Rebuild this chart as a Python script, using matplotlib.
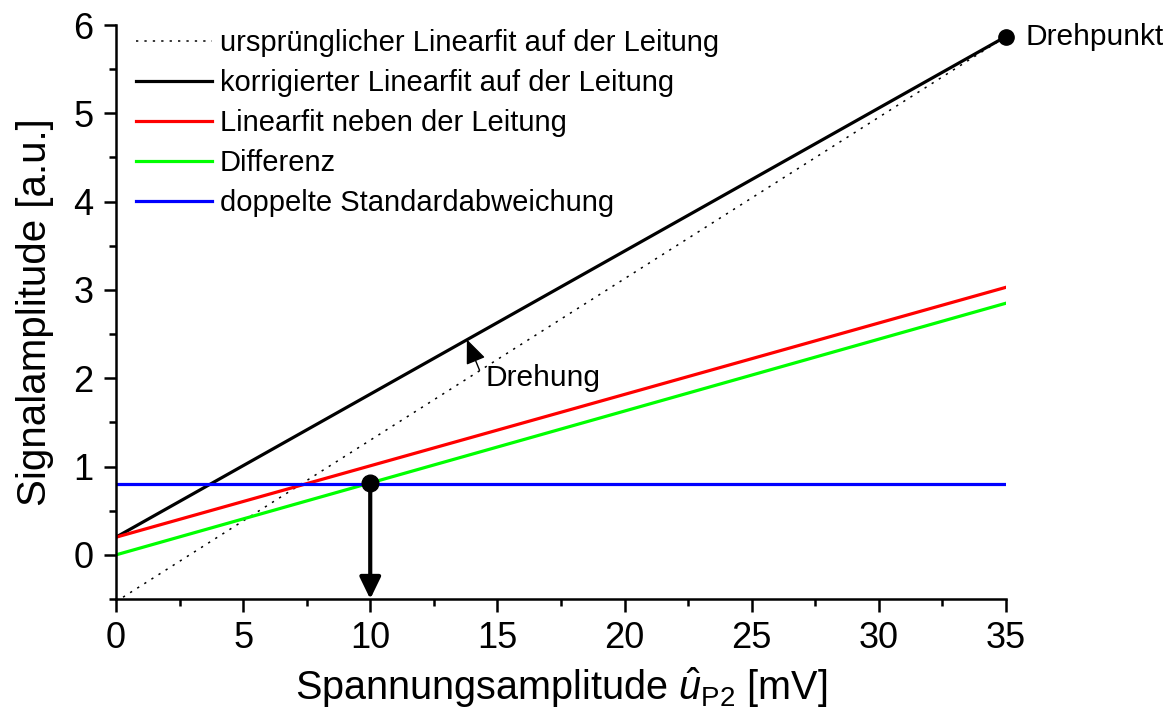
import matplotlib
matplotlib.use("Agg")
import matplotlib.pyplot as plt
from matplotlib.ticker import MultipleLocator

plt.rcParams['font.family'] = ['Liberation Sans', 'DejaVu Sans']
plt.rcParams['mathtext.fontset'] = 'custom'
plt.rcParams['mathtext.rm'] = 'Liberation Sans'
plt.rcParams['mathtext.it'] = 'Liberation Sans:italic'

# Fit line endpoints (x in mV, amplitude in a.u.)
x_ends = [0, 35]
original_fit = [-0.53, 5.87]
corrected_fit = [0.2, 5.87]
beside_fit = [0.2, 3.03]
difference = [0.0, 2.85]
two_sigma = [0.8, 0.8]

pivot = (35, 5.87)
threshold_point = (10, 0.815)
rotation_point = (13.8, 2.44)
rotation_tail = (14.3, 2.09)
rotation_text = (14.55, 2.0)

labels = [
    "ursprünglicher Linearfit auf der Leitung",
    "korrigierter Linearfit auf der Leitung",
    "Linearfit neben der Leitung",
    "Differenz",
    "doppelte Standardabweichung",
]

fig = plt.figure(figsize=(11.7, 7.09), dpi=100)
ax = fig.add_axes([0.0991, 0.1551, 0.7607, 0.8096])

ax.plot(x_ends, original_fit, color='black', lw=1.1, ls=(0, (1.5, 4)), label=labels[0])
ax.plot(x_ends, corrected_fit, color='black', lw=2.3, label=labels[1])
ax.plot(x_ends, beside_fit, color='#ff0000', lw=2.3, label=labels[2])
ax.plot(x_ends, difference, color='#00ff00', lw=2.3, label=labels[3])
ax.plot(x_ends, two_sigma, color='#0000ff', lw=2.3, label=labels[4])

# Pivot point
ax.plot([pivot[0]], [pivot[1]], 'o', color='black', ms=11, clip_on=False, zorder=5)
ax.text(pivot[0] + 0.75, pivot[1], "Drehpunkt", fontsize=21.5, va='center', ha='left')

# Threshold crossing with arrow down to the axis
ax.plot([threshold_point[0]], [threshold_point[1]], 'o', color='black', ms=12, zorder=5)
ax.annotate("", xy=(threshold_point[0], -0.5), xytext=threshold_point,
            arrowprops=dict(arrowstyle='-|>,head_length=0.33,head_width=0.16',
                            lw=3.0, color='black',
                            mutation_scale=40, shrinkA=0, shrinkB=0),
            annotation_clip=False)

# Rotation annotation
ax.annotate("", xy=rotation_point, xytext=rotation_tail,
            arrowprops=dict(arrowstyle='-|>,head_length=0.6,head_width=0.25',
                            lw=1.0, color='black',
                            mutation_scale=25, shrinkA=0, shrinkB=0))
ax.text(rotation_text[0], rotation_text[1], "Drehung", fontsize=21.5, va='center', ha='left')

ax.set_xlim(0, 35)
ax.set_ylim(-0.5, 6)
ax.xaxis.set_major_locator(MultipleLocator(5))
ax.xaxis.set_minor_locator(MultipleLocator(2.5))
ax.yaxis.set_major_locator(MultipleLocator(1))
ax.yaxis.set_minor_locator(MultipleLocator(0.5))

for side in ('top', 'right'):
    ax.spines[side].set_visible(False)
for side in ('left', 'bottom'):
    ax.spines[side].set_linewidth(1.8)

ax.tick_params(which='major', direction='out', length=9, width=1.8, labelsize=26, pad=7)
ax.tick_params(which='minor', direction='out', length=5, width=1.8)

ax.set_xlabel(r"Spannungsamplitude $\hat{u}_{\mathrm{P2}}$ [mV]", fontsize=28.5, labelpad=6)
ax.set_ylabel("Signalamplitude [a.u.]", fontsize=29, labelpad=14)

leg = ax.legend(loc='upper left', frameon=False, fontsize=21, handlelength=2.6,
                handletextpad=0.28, labelspacing=0.41, borderaxespad=0.0, borderpad=0.0,
                bbox_to_anchor=(0.0225, 0.993))

fig.savefig("out.png", dpi=100)
